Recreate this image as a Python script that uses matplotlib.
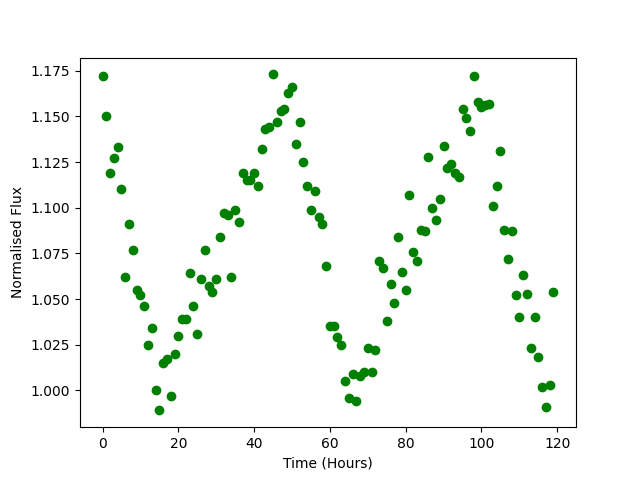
import matplotlib
matplotlib.use('Agg')
import matplotlib.pyplot as plt
import numpy as np

# Time in hours, one sample per hour
hours = np.arange(120)

flux = [
    1.172, 1.150, 1.119, 1.127, 1.133, 1.110, 1.062, 1.091, 1.077, 1.055,
    1.052, 1.046, 1.025, 1.034, 1.000, 0.989, 1.015, 1.017, 0.997, 1.020,
    1.030, 1.039, 1.039, 1.064, 1.046, 1.031, 1.061, 1.077, 1.057, 1.054,
    1.061, 1.084, 1.097, 1.096, 1.062, 1.099, 1.092, 1.119, 1.115, 1.115,
    1.119, 1.112, 1.132, 1.143, 1.144, 1.173, 1.147, 1.153, 1.154, 1.163,
    1.166, 1.135, 1.147, 1.125, 1.112, 1.099, 1.109, 1.095, 1.091, 1.068,
    1.035, 1.035, 1.029, 1.025, 1.005, 0.996, 1.009, 0.994, 1.008, 1.010,
    1.023, 1.010, 1.022, 1.071, 1.067, 1.038, 1.058, 1.048, 1.084, 1.065,
    1.055, 1.107, 1.076, 1.071, 1.088, 1.087, 1.128, 1.100, 1.093, 1.105,
    1.134, 1.122, 1.124, 1.119, 1.117, 1.154, 1.149, 1.142, 1.172, 1.158,
    1.155, 1.156, 1.157, 1.101, 1.112, 1.131, 1.088, 1.072, 1.087, 1.052,
    1.040, 1.063, 1.053, 1.023, 1.040, 1.018, 1.002, 0.991, 1.003, 1.054,
]

fig, ax = plt.subplots(figsize=(6.4, 4.8), dpi=100)
ax.plot(hours, flux, 'o', color='green')
ax.set_xlabel('Time (Hours)')
ax.set_ylabel('Normalised Flux')
fig.savefig('out.png')
